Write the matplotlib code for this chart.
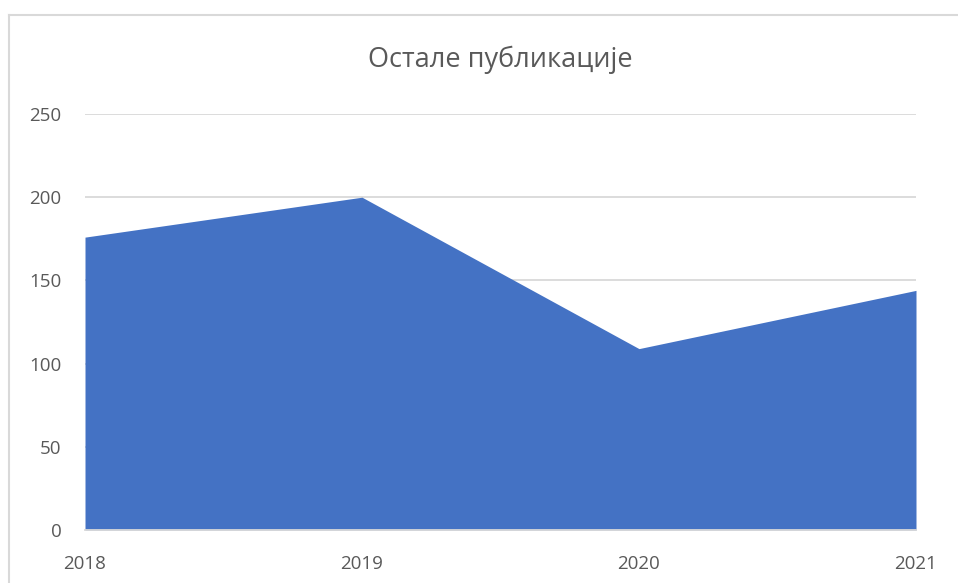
import matplotlib.pyplot as plt
from matplotlib.lines import Line2D

years = ["2018", "2019", "2020", "2021"]
values = [176, 200, 109, 144]
yticks = [0, 50, 100, 150, 200, 250]

W, H = 958, 583
fig = plt.figure(figsize=(W / 100, H / 100), dpi=100)
plt.rcParams['font.family'] = ['Open Sans', 'DejaVu Sans']

# chart border (cropped on right/bottom)
fig.add_artist(Line2D([8.5 / W, 8.5 / W], [0, 1 - 15 / H], color='#d9d9d9', lw=1.5))
fig.add_artist(Line2D([8.5 / W, 1], [1 - 15 / H, 1 - 15 / H], color='#d9d9d9', lw=1.5))

ax = fig.add_axes([85 / W, 1 - 530 / H, (916 - 85) / W, (530 - 114) / H])
x = list(range(len(years)))
ax.fill_between(x, values, 0, color='#4472c4', lw=0, zorder=2)

ax.set_xlim(0, len(years) - 1)
ax.set_ylim(0, 250)
ax.set_yticks(yticks)
ax.set_xticks(x)
ax.set_xticklabels(years)
ax.grid(axis='y', color='#d9d9d9', lw=1.3, zorder=1)
for s in ['top', 'right', 'left']:
    ax.spines[s].set_visible(False)
ax.spines['bottom'].set_color('#d9d9d9')
ax.spines['bottom'].set_linewidth(1.3)
ax.spines['bottom'].set_zorder(3)
ax.tick_params(axis='y', length=0, pad=17, labelsize=13.5, labelcolor='#595959')
ax.tick_params(axis='x', length=0, pad=18, labelsize=13.5, labelcolor='#595959')

fig.text((85 + 916) / 2 / W, 1 - 60 / H, "Остале публикације", ha='center', va='center',
         fontsize=19.5, color='#595959')

fig.savefig('out.png', dpi=100)
